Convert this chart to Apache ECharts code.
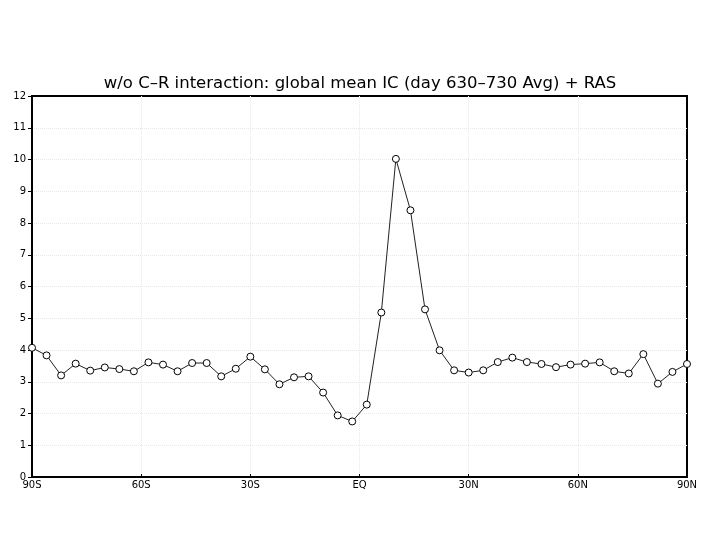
<!DOCTYPE html>
<html>
<head>
<meta charset="utf-8">
<script src="https://cdn.jsdelivr.net/npm/echarts@6/dist/echarts.min.js"></script>
<style>
    html, body { margin: 0; padding: 0; background: #fff; }
    #chart { width: 720px; height: 540px; }
</style>
</head>
<body>
<div id="chart"></div>
<script>
    // latitudes every 4 degrees, 90S .. 90N
    var lats = [-90, -86, -82, -78, -74, -70, -66, -62, -58, -54, -50, -46, -42, -38, -34, -30,
                -26, -22, -18, -14, -10, -6, -2, 2, 6, 10, 14, 18, 22, 26, 30,
                34, 38, 42, 46, 50, 54, 58, 62, 66, 70, 74, 78, 82, 86, 90];
    var icValues = [4.07, 3.83, 3.20, 3.57, 3.35, 3.45, 3.40, 3.33, 3.61, 3.54, 3.33, 3.59, 3.59, 3.17, 3.41, 3.79,
                    3.39, 2.92, 3.14, 3.17, 2.66, 1.94, 1.75, 2.28, 5.18, 10.02, 8.40, 5.28, 3.99, 3.36, 3.29,
                    3.36, 3.62, 3.76, 3.62, 3.56, 3.46, 3.54, 3.57, 3.61, 3.33, 3.26, 3.87, 2.94, 3.31, 3.56];
    var latTicks = { '-90': '90S', '-60': '60S', '-30': '30S', '0': 'EQ', '30': '30N', '60': '60N', '90': '90N' };

    var points = [];
    for (var i = 0; i < lats.length; i++) {
        points.push([lats[i], icValues[i]]);
    }

    var chart = echarts.init(document.getElementById('chart'));
    chart.setOption({
        animation: false,
        backgroundColor: '#fff',
        title: {
            text: 'w/o C\u2013R interaction: global mean IC (day 630\u2013730 Avg) + RAS',
            left: 'center',
            top: 70,
            textStyle: {
                fontFamily: 'DejaVu Sans',
                fontSize: 16.5,
                fontWeight: 'normal',
                color: '#000'
            }
        },
        grid: {
            left: 32,
            right: 33,
            top: 96,
            bottom: 63,
            show: true,
            borderColor: '#000',
            borderWidth: 2
        },
        xAxis: {
            type: 'value',
            min: -90,
            max: 90,
            interval: 30,
            axisLine: { show: true, onZero: false, lineStyle: { color: '#000', width: 2 } },
            axisTick: { show: true, inside: true, length: 3, lineStyle: { color: '#000' } },
            axisLabel: {
                color: '#000',
                fontFamily: 'DejaVu Sans',
                fontSize: 10,
                margin: 3,
                formatter: function (v) { return latTicks[String(v)] || ''; }
            },
            splitLine: {
                show: true, showMinLine: false, showMaxLine: false,
                lineStyle: { color: '#e8e8e8', type: 'dotted' }
            }
        },
        yAxis: {
            type: 'value',
            min: 0,
            max: 12,
            interval: 1,
            axisLine: { show: true, onZero: false, lineStyle: { color: '#000', width: 2 } },
            axisTick: { show: true, length: 4, lineStyle: { color: '#000' } },
            axisLabel: {
                color: '#000',
                fontFamily: 'DejaVu Sans',
                fontSize: 10,
                margin: 6
            },
            splitLine: {
                show: true, showMinLine: false, showMaxLine: false,
                lineStyle: { color: '#e8e8e8', type: 'dotted' }
            }
        },
        series: [{
            type: 'line',
            data: points,
            symbol: 'circle',
            symbolSize: 7,
            showAllSymbol: true,
            lineStyle: { color: '#222', width: 1 },
            itemStyle: { color: '#fff', borderColor: '#000', borderWidth: 1 }
        }]
    });
</script>
</body>
</html>
